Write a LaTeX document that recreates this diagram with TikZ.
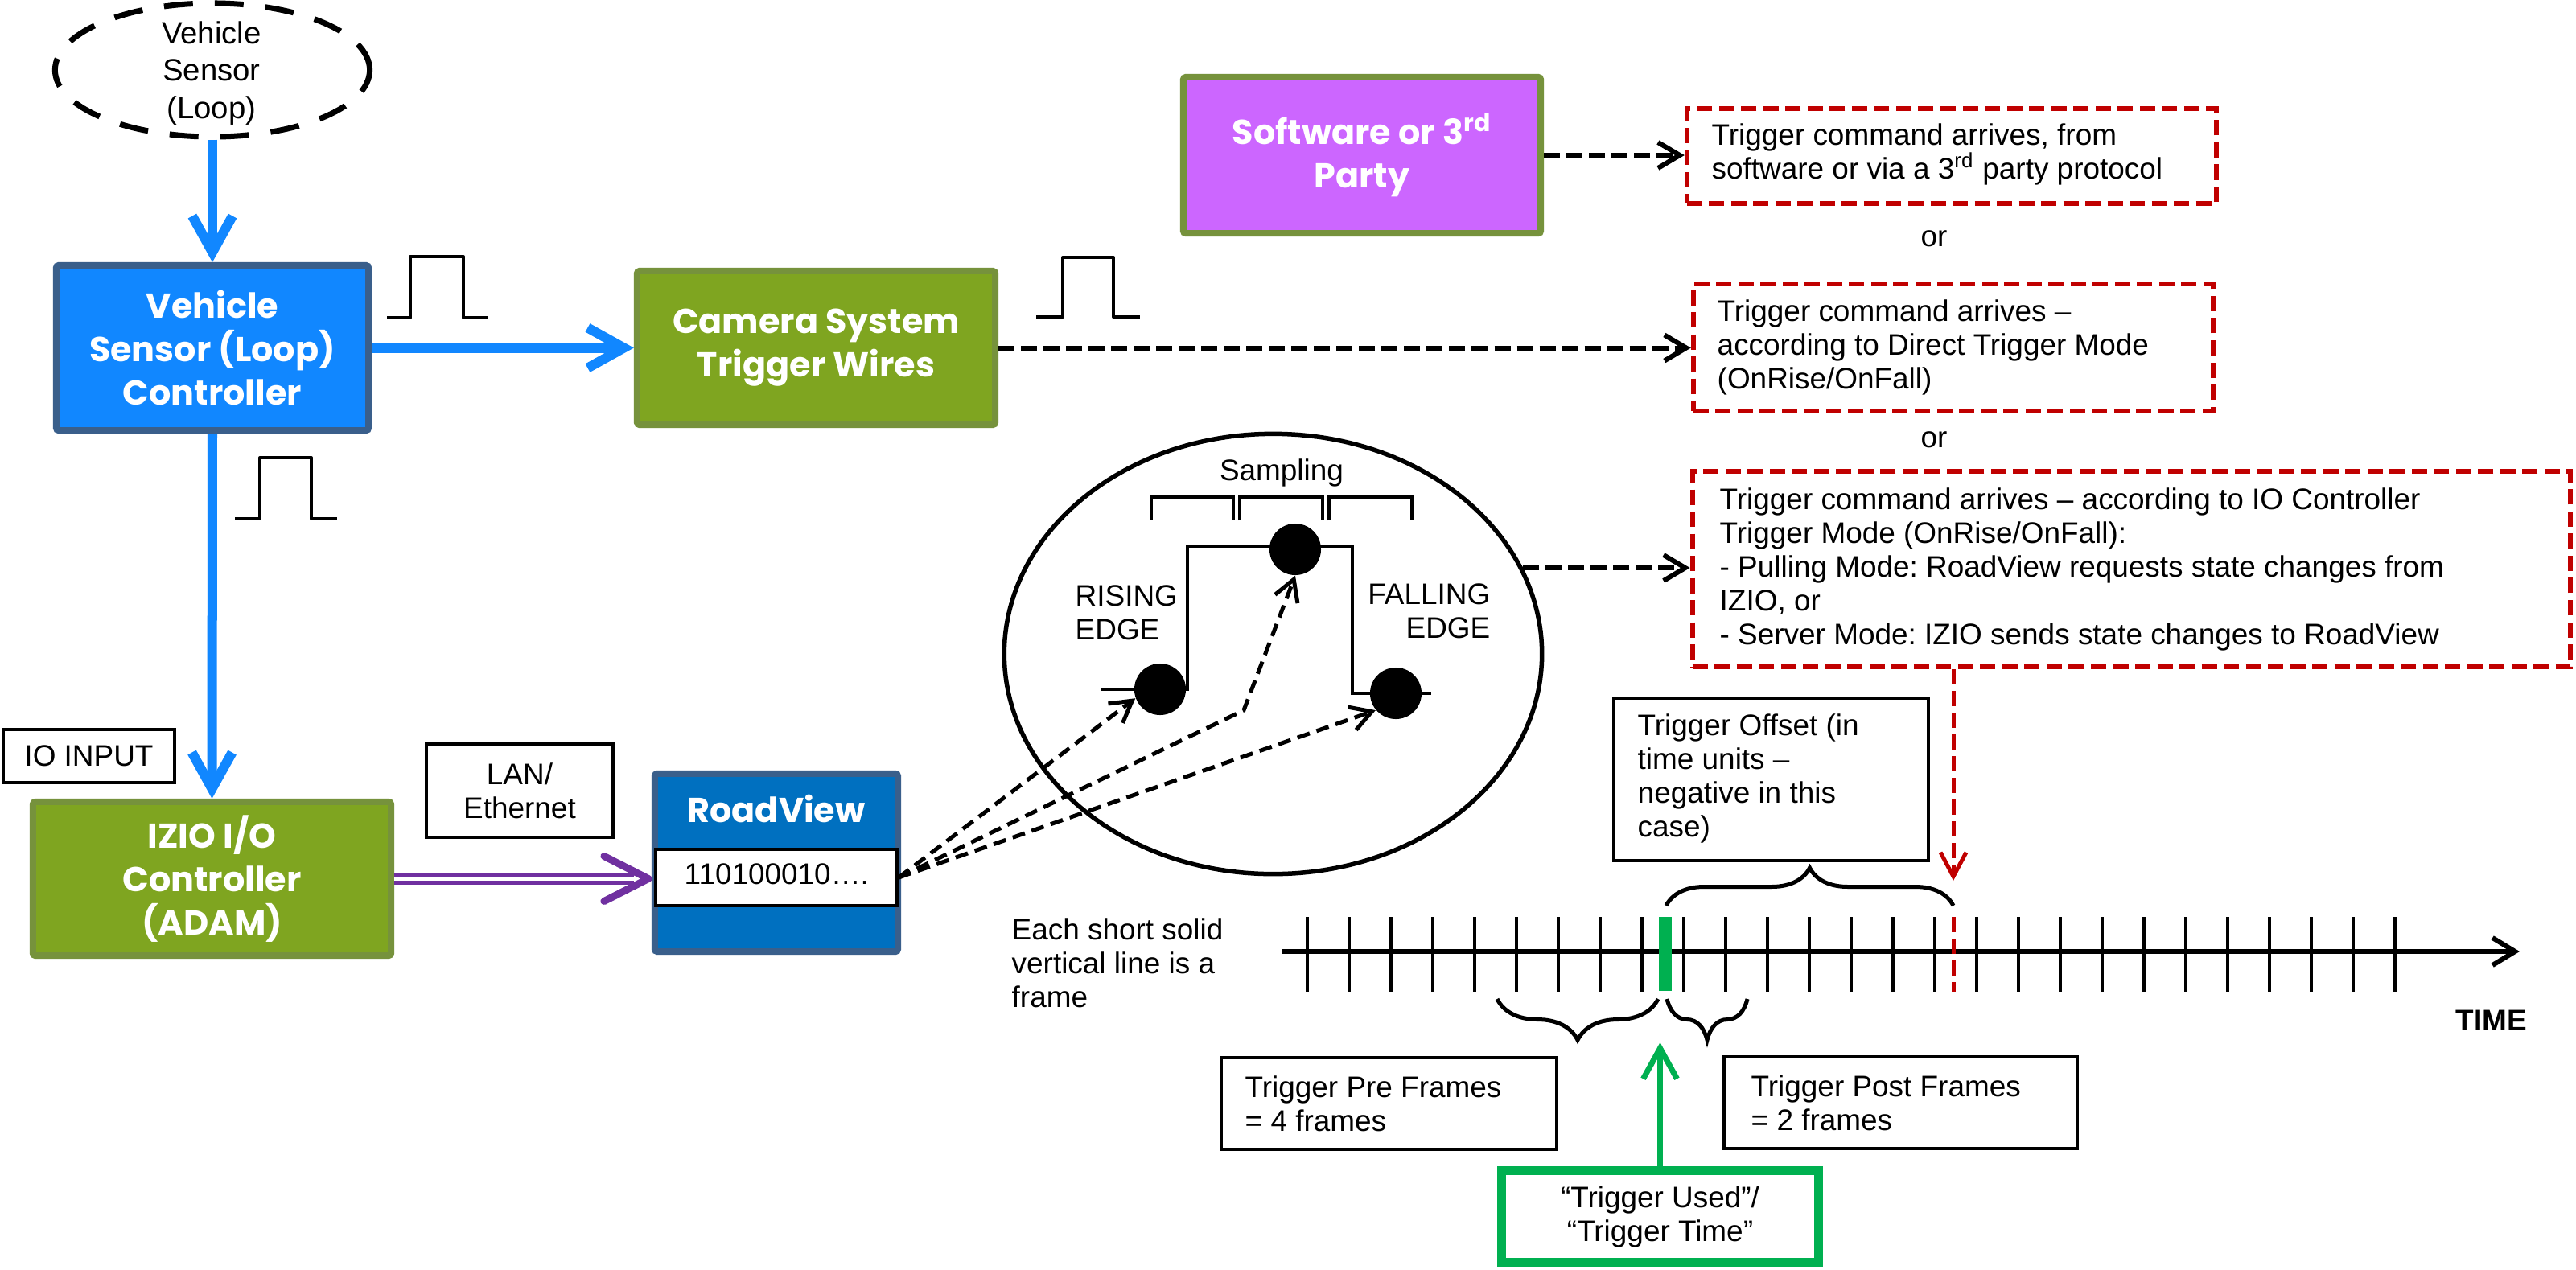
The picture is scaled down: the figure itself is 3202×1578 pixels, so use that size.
\documentclass[tikz,border=0pt]{standalone}
\usepackage{fontspec}
\setmainfont{Liberation Sans}
\newfontfamily\gothic{Poppins}
\usetikzlibrary{arrows.meta,shapes.geometric,decorations.pathreplacing,calc}
\definecolor{blueF}{RGB}{17,135,255}
\definecolor{blueB}{RGB}{58,95,139}
\definecolor{greenF}{RGB}{127,165,32}
\definecolor{greenB}{RGB}{118,146,60}
\definecolor{purpF}{RGB}{204,102,255}
\definecolor{rvF}{RGB}{0,112,192}
\definecolor{redD}{RGB}{192,0,0}
\definecolor{greenT}{RGB}{0,176,80}
\definecolor{purpA}{RGB}{112,48,160}
\newcommand{\ftxt}{\fontsize{10.5}{11.95}\selectfont}
\newcommand{\fbig}{\gothic\bfseries\fontsize{12.2}{15.4}\selectfont}
\frenchspacing
\begin{document}
\begin{tikzpicture}[x=0.01cm,y=-0.01cm,
  colbox/.style={draw, line width=0.08cm, rounded corners=0.03cm, inner sep=0, text=white, font=\fbig, align=center},
  ctrlbox/.style={colbox, fill=blueF, draw=blueB},
  grnbox/.style={colbox, fill=greenF, draw=greenB},
  thinbox/.style={draw=black, line width=0.04cm, fill=white, inner sep=0},
  redbox/.style={draw=redD, line width=0.06cm, dash pattern=on 0.19cm off 0.085cm, inner sep=0},
  txt/.style={font=\ftxt, inner sep=0, align=left},
  bluearrow/.style={draw=blueF, line width=0.12cm, -{Straight Barb[length=0.45cm,width=0.5cm]}},
  dasharrow/.style={draw=black, line width=0.06cm, dash pattern=on 0.2cm off 0.08cm, -{Straight Barb[length=0.27cm,width=0.32cm]}},
  smalldash/.style={draw=black, line width=0.05cm, dash pattern=on 0.16cm off 0.09cm, -{Straight Barb[length=0.26cm,width=0.3cm]}},
  redarrow/.style={draw=redD, line width=0.05cm, dash pattern=on 0.19cm off 0.08cm, -{Straight Barb[length=0.3cm,width=0.32cm]}},
  pulse/.style={draw=black, line width=0.04cm, line join=round},
  bracebig/.style={draw=black, line width=0.05cm, decorate},
]
\useasboundingbox (0,0) rectangle (3202,1578);
\fill[white] (0,0) rectangle (3202,1578);

% ---- left column ----
\node[ellipse, draw, line width=0.07cm, dash pattern=on 0.36cm off 0.27cm, minimum width=3.91cm, minimum height=1.66cm, inner sep=0] (sensor) at (264,87) {};
\node[txt, align=center, font=\fontsize{10.9}{13.2}\selectfont] (sensort) at (263,91) {Vehicle\\Sensor\\(Loop)};

\node[ctrlbox, minimum width=3.88cm, minimum height=2.05cm] (ctrl) at (264,432.5) {Vehicle\\Sensor (Loop)\\Controller};
\node[grnbox, minimum width=4.45cm, minimum height=1.91cm] (cam) at (1014.5,432.5) {Camera System\\Trigger Wires};
\node[grnbox, minimum width=4.45cm, minimum height=1.91cm] (izio) at (263.5,1092.5) {IZIO I/O\\Controller\\(ADAM)};
\node[colbox, fill=purpF, draw=greenB, minimum width=4.44cm, minimum height=1.94cm] (soft) at (1693,193) {Software or 3\textsuperscript{rd}\\Party};

\node[thinbox, minimum width=2.13cm, minimum height=0.66cm, font=\ftxt] (ioin) at (110.5,940) {IO INPUT};
\node[thinbox, minimum width=2.32cm, minimum height=1.16cm, font=\ftxt, align=center] (lan) at (646,983) {LAN/\\Ethernet};

\node[colbox, fill=rvF, draw=blueB, minimum width=3.02cm, minimum height=2.21cm] (rv) at (965,1072.5) {};
\node[font=\fbig, text=white, anchor=base, inner sep=0] (rvt) at (965,1022) {RoadView};
\node[thinbox, minimum width=3.0cm, minimum height=0.70cm] (bits) at (965,1091) {};
\node[txt, anchor=west] (bitst) at (850,1087) {110100010….};

% pulses
\draw[pulse] (481,395) -- (510,395) -- (510,319) -- (576,319) -- (576,395) -- (607,395);
\draw[pulse] (292,645) -- (323,645) -- (323,569) -- (387,569) -- (387,645) -- (419,645);
\draw[pulse] (1288,394) -- (1321,394) -- (1321,320) -- (1384,320) -- (1384,394) -- (1417,394);

% blue arrows
\draw[bluearrow] (sensor.south) -- (ctrl.north);
\draw[bluearrow] (ctrl.east) -- (cam.west);
\draw[bluearrow] (ctrl.south) -- (izio.north);

% purple double arrow
\coordinate (ptip) at (izio.east -| rv.west);
\draw[purpA, line width=0.045cm, double=white, double distance=0.055cm, shorten >=0.22cm] (izio.east) -- (ptip);
\draw[purpA, line width=0.09cm, line cap=round, line join=round] ([xshift=-0.59cm,yshift=0.28cm]ptip) -- ([xshift=-0.04cm]ptip) -- ([xshift=-0.59cm,yshift=-0.28cm]ptip);

% ---- right column: red boxes ----
\node[redbox, minimum width=6.58cm, minimum height=1.18cm] (r1) at (2426,194) {};
\node[txt, anchor=west] (r1t) at (2127,192) {Trigger command arrives, from\\software or via a 3\textsuperscript{rd} party protocol};
\node[txt] (or1) at (2404,297) {or};
\node[redbox, minimum width=6.46cm, minimum height=1.58cm] (r2) at (2428,432) {};
\node[txt, anchor=west] (r2t) at (2134,432) {Trigger command arrives –\\according to Direct Trigger Mode\\(OnRise/OnFall)};
\node[txt] (or2) at (2404,547) {or};
\node[redbox, minimum width=10.91cm, minimum height=2.43cm] (r3) at (2649.5,707.5) {};
\node[txt, anchor=west] (r3t) at (2137,707.5) {Trigger command arrives – according to IO Controller\\Trigger Mode (OnRise/OnFall):\\- Pulling Mode: RoadView requests state changes from\\IZIO, or\\- Server Mode: IZIO sends state changes to RoadView};

\draw[dasharrow] (soft.east) -- (soft.east -| r1.west);
\draw[dasharrow] (cam.east) -- (cam.east -| r2.west);

% ---- sampling circle ----
\node[ellipse, draw, line width=0.055cm, minimum width=6.68cm, minimum height=5.47cm, inner sep=0] (circ) at (1582.5,813) {};
\draw[line width=0.04cm] (1431,647) -- (1431,618) -- (1533,618) -- (1533,647);
\draw[line width=0.04cm] (1541,647) -- (1541,618) -- (1644,618) -- (1644,647);
\draw[line width=0.04cm] (1652,647) -- (1652,618) -- (1755,618) -- (1755,647);
\draw[line width=0.04cm] (1368,857) -- (1476,857) -- (1476,679) -- (1681,679) -- (1681,862) -- (1779,862);
\node[circle, fill=black, minimum size=0.64cm, inner sep=0] (dot1) at (1442,857) {};
\node[circle, fill=black, minimum size=0.64cm, inner sep=0] (dot2) at (1610,683) {};
\node[circle, fill=black, minimum size=0.64cm, inner sep=0] (dot3) at (1735,862) {};
\node[txt, anchor=base] (samp) at (1593,597) {Sampling};
\node[txt, anchor=west] (rise) at (1336,762) {RISING\\EDGE};
\node[txt, anchor=east, align=right] (fall) at (1853,760) {FALLING\\EDGE};

\coordinate (kink) at (1546,883);
\draw[smalldash] (bits.east) -- (dot1.200);
\draw[smalldash] (bits.east) -- (kink) -- (dot2.south);
\draw[smalldash] (bits.east) -- (dot3.220);
\draw[dasharrow] (circ.19) -- (circ.19 -| r3.west);

% ---- timeline ----
\node[thinbox, minimum width=3.91cm, minimum height=2.02cm] (offs) at (2201.5,969) {};
\node[txt, anchor=west] (offst) at (2035,968) {Trigger Offset (in\\time units –\\negative in this\\case)};
\coordinate (offtip) at (2428,1095);
\draw[redarrow] (r3.south -| offtip) -- (offtip);

\coordinate (axL) at (1593,1183);
\coordinate (axR) at (3132,1183);
\foreach \i in {0,...,26} \draw[line width=0.04cm] ({1625+52*\i},1140) -- ({1625+52*\i},1233);
\draw[line width=0.06cm, -{Straight Barb[length=0.28cm,width=0.34cm]}] (axL) -- (axR);
\fill[greenT] (2062,1140) rectangle (2078,1232);
\draw[draw=redD, line width=0.05cm, dash pattern=on 0.19cm off 0.08cm] (2428,1140) -- (2428,1233);

\draw[bracebig, decoration={brace, amplitude=0.47cm}] (2071,1126) -- (2428,1126);
\draw[bracebig, decoration={brace, amplitude=0.51cm}] (2061,1242) -- (1861,1242);
\draw[bracebig, decoration={brace, amplitude=0.51cm}] (2172,1242) -- (2072,1242);

\node[txt, anchor=west] (each) at (1257,1197) {Each short solid\\vertical line is a\\frame};
\node[font=\ftxt\bfseries, inner sep=0, anchor=base west] (time) at (3052,1281) {TIME};

\node[thinbox, minimum width=4.17cm, minimum height=1.14cm] (pre) at (1726.5,1372) {};
\node[txt, anchor=west] (pret) at (1547,1372) {Trigger Pre Frames\\= 4 frames};
\node[thinbox, minimum width=4.39cm, minimum height=1.14cm] (post) at (2362.5,1371) {};
\node[txt, anchor=west] (postt) at (2176,1371) {Trigger Post Frames\\= 2 frames};

\node[draw=greenT, line width=0.11cm, fill=white, minimum width=3.94cm, minimum height=1.14cm, inner sep=0, font=\ftxt, align=center] (used) at (2063.5,1512.5) {“Trigger Used”/\\“Trigger Time”};
\coordinate (usedtip) at (2065,1296);
\draw[draw=greenT, line width=0.07cm, -{Straight Barb[length=0.38cm,width=0.42cm]}] (used.north) -- (used.north |- usedtip);
\end{tikzpicture}
\end{document}
